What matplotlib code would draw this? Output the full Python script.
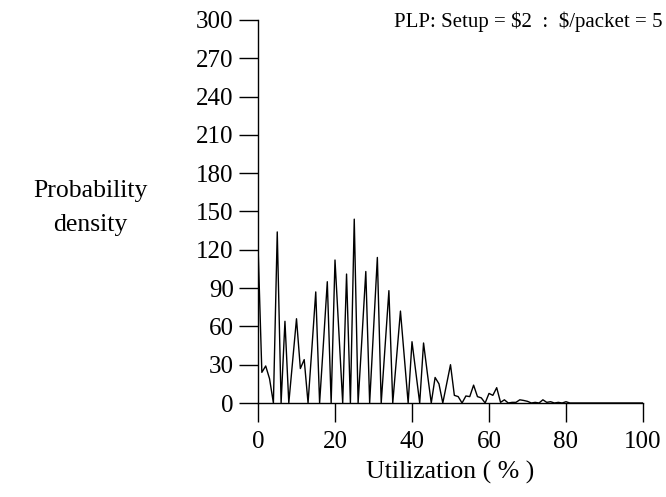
import numpy as np
import matplotlib
matplotlib.use("Agg")
import matplotlib.pyplot as plt

plt.rcParams['font.family'] = ['Liberation Serif', 'DejaVu Serif']

# utilization in %, one sample per percent
utilization = np.arange(0, 101)
density = [124, 24, 29, 19, 0, 134, 0, 64, 0, 33,
           66, 27, 34, 0, 43, 87, 0, 47, 95, 0,
           112, 56, 0, 101, 0, 144, 0, 51, 103, 0,
           57, 114, 0, 44, 88, 0, 36, 72, 36, 0,
           48, 24, 0, 47, 23, 0, 20, 15, 0, 15,
           30, 6, 5, 0, 5.5, 5, 14, 5, 4, 0,
           7.5, 6, 12, 0.5, 2.5, 0, 0.5, 0.5, 2.5, 2,
           1.3, 0, 0.5, 0, 2.5, 0.5, 1, 0, 0.5, 0,
           1, 0, 0, 0, 0, 0, 0, 0, 0, 0,
           0, 0, 0, 0, 0, 0, 0, 0, 0, 0, 0]

x_ticks = [0, 20, 40, 60, 80, 100]
y_ticks = [0, 30, 60, 90, 120, 150, 180, 210, 240, 270, 300]

fig = plt.figure(figsize=(6.66, 4.97), dpi=100)
ax = fig.add_axes([258/666, 1 - 403/497, (643 - 258)/666, (403 - 20)/497])

ax.plot(utilization, density, color='black', lw=1.0)

ax.set_xlim(0, 100)
ax.set_ylim(0, 300)
ax.set_xticks(x_ticks)
ax.set_yticks(y_ticks)

for s in ['top', 'right']:
    ax.spines[s].set_visible(False)
ax.spines['left'].set_linewidth(1.0)
ax.spines['bottom'].set_linewidth(1.0)
ax.tick_params(direction='out', length=13.5, width=1.0, labelsize=18, pad=4)
ax.tick_params(axis='x', pad=7)

ax.set_xlabel("Utilization ( % )", fontsize=18.5, labelpad=5)
fig.text(90/666, 1 - 208/497, "Probability\ndensity", fontsize=18.5,
         ha='center', va='center', linespacing=1.7)
fig.text(662/666, 1 - 22/497, "PLP: Setup = \\$2  :  \\$/packet = 5",
         fontsize=15, ha='right', va='center')

fig.savefig("out.png", dpi=100)
